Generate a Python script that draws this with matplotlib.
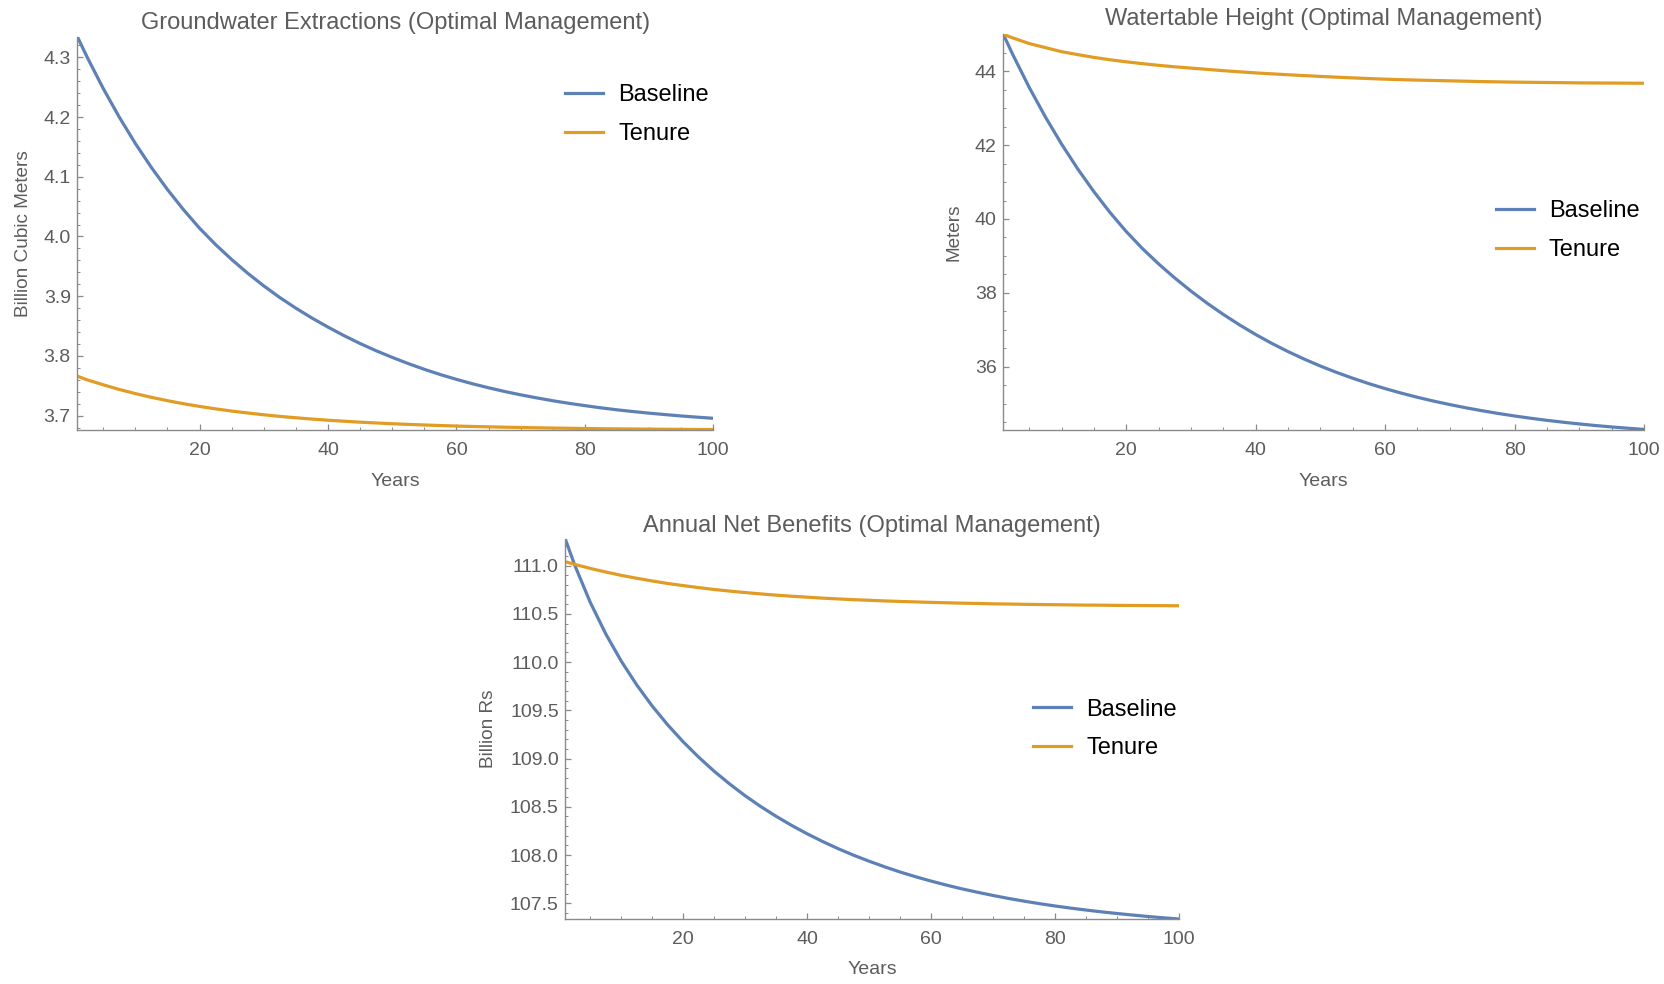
import matplotlib
matplotlib.use("Agg")
import matplotlib.pyplot as plt
from matplotlib.ticker import MultipleLocator, FormatStrFormatter

plt.rcParams['font.family'] = ['Liberation Sans', 'DejaVu Sans']

years = [1, 2.5, 5, 7.5, 10, 12.5, 15, 17.5, 20, 22.5, 25, 27.5, 30, 32.5, 35, 37.5, 40, 42.5, 45, 47.5,
         50, 52.5, 55, 57.5, 60, 62.5, 65, 67.5, 70, 72.5, 75, 77.5, 80, 82.5, 85, 87.5, 90, 92.5, 95, 97.5, 100]

extraction_baseline = [4.3340, 4.3003, 4.2479, 4.1999, 4.1559, 4.1156, 4.0787, 4.0449, 4.0139, 3.9865, 3.9615,
                       3.9385, 3.9173, 3.8978, 3.8800, 3.8635, 3.8483, 3.8340, 3.8208, 3.8087, 3.7976, 3.7872,
                       3.7776, 3.7688, 3.7608, 3.7534, 3.7467, 3.7405, 3.7349, 3.7298, 3.7250, 3.7207, 3.7168,
                       3.7131, 3.7098, 3.7069, 3.7042, 3.7018, 3.6995, 3.6975, 3.6956]
extraction_tenure = [3.7660, 3.7600, 3.7517, 3.7439, 3.7370, 3.7307, 3.7251, 3.7200, 3.7155, 3.7114, 3.7077,
                     3.7045, 3.7015, 3.6988, 3.6965, 3.6943, 3.6924, 3.6907, 3.6891, 3.6878, 3.6865, 3.6854,
                     3.6844, 3.6835, 3.6826, 3.6819, 3.6813, 3.6807, 3.6802, 3.6797, 3.6793, 3.6789, 3.6785,
                     3.6782, 3.6779, 3.6777, 3.6775, 3.6773, 3.6771, 3.6769, 3.6768]

watertable_baseline = [45.000, 44.438, 43.564, 42.763, 42.029, 41.356, 40.739, 40.173, 39.659, 39.199, 38.783,
                       38.402, 38.048, 37.719, 37.415, 37.133, 36.872, 36.631, 36.410, 36.206, 36.018, 35.846,
                       35.688, 35.542, 35.408, 35.285, 35.172, 35.069, 34.975, 34.888, 34.808, 34.734, 34.667,
                       34.605, 34.549, 34.498, 34.451, 34.408, 34.370, 34.335, 34.303]
watertable_tenure = [45.00, 44.90, 44.75, 44.64, 44.53, 44.45, 44.375, 44.31, 44.255, 44.205, 44.16,
                     44.12, 44.085, 44.05, 44.015, 43.985, 43.955, 43.929, 43.905, 43.882, 43.86, 43.839,
                     43.82, 43.802, 43.785, 43.772, 43.76, 43.75, 43.74, 43.73, 43.72, 43.712, 43.705,
                     43.70, 43.695, 43.69, 43.685, 43.682, 43.68, 43.677, 43.675]

benefits_baseline = [111.270, 111.003, 110.619, 110.292, 110.010, 109.763, 109.544, 109.349, 109.173, 109.014, 108.868,
                     108.736, 108.614, 108.503, 108.401, 108.307, 108.220, 108.140, 108.066, 107.998, 107.936, 107.878,
                     107.824, 107.775, 107.730, 107.688, 107.649, 107.614, 107.581, 107.550, 107.522, 107.496, 107.472,
                     107.450, 107.430, 107.411, 107.394, 107.378, 107.363, 107.349, 107.337]
benefits_tenure = [111.040, 111.013, 110.971, 110.934, 110.899, 110.869, 110.841, 110.815, 110.793, 110.772, 110.753,
                   110.736, 110.721, 110.707, 110.694, 110.683, 110.673, 110.663, 110.655, 110.647, 110.641, 110.634,
                   110.629, 110.624, 110.619, 110.615, 110.611, 110.608, 110.604, 110.602, 110.599, 110.597, 110.595,
                   110.593, 110.591, 110.590, 110.588, 110.587, 110.586, 110.585, 110.584]

series_labels = ["Baseline", "Tenure"]
titles = ["Groundwater Extractions (Optimal Management)",
          "Watertable Height (Optimal Management)",
          "Annual Net Benefits (Optimal Management)"]
ylabels = ["Billion Cubic Meters", "Meters", "Billion Rs"]
xlabel = "Years"

BLUE = "#5E81B5"
ORANGE = "#E19C24"
AXCOL = "#8a8a8a"
TXTCOL = "#5c5c5c"

W, H = 1665, 984
fig = plt.figure(figsize=(W / 100, H / 100), dpi=100)

def rect(l, t, r, b):
    return [l / W, 1 - b / H, (r - l) / W, (b - t) / H]

panels = [
    dict(rect=rect(77.5, 36.7, 713.3, 430), ylim=(3.676, 4.3345), major=0.1, minor=0.02, fmt='%.1f',
         ys=(extraction_baseline, extraction_tenure), leg=(565, 114.3), ylab_x=23.4, title_y=22.5, xlab_y=481),
    dict(rect=rect(1003.3, 34.3, 1644, 430), ylim=(34.287, 45.0), major=2, minor=0.5, fmt='%d',
         ys=(watertable_baseline, watertable_tenure), leg=(1495.7, 230.7), ylab_x=953.6, title_y=19.5, xlab_y=481),
    dict(rect=rect(565.5, 539.3, 1179, 919), ylim=(107.337, 111.273), major=0.5, minor=0.1, fmt='%.1f',
         ys=(benefits_baseline, benefits_tenure), leg=(1033.3, 729), ylab_x=488.5, title_y=526, xlab_y=969.5),
]

for i, p in enumerate(panels):
    ax = fig.add_axes(p['rect'])
    for ys, c, lab in zip(p['ys'], (BLUE, ORANGE), series_labels):
        ax.plot(years, ys, color=c, lw=2.3, label=lab, solid_joinstyle='round', clip_on=True)
    ax.set_xlim(1, 100)
    ax.set_ylim(*p['ylim'])
    for s in ('top', 'right'):
        ax.spines[s].set_visible(False)
    for s in ('left', 'bottom'):
        ax.spines[s].set_color(AXCOL)
        ax.spines[s].set_linewidth(1.0)
    ax.xaxis.set_major_locator(MultipleLocator(20))
    ax.xaxis.set_minor_locator(MultipleLocator(5))
    ax.yaxis.set_major_locator(MultipleLocator(p['major']))
    ax.yaxis.set_minor_locator(MultipleLocator(p['minor']))
    ax.yaxis.set_major_formatter(FormatStrFormatter(p['fmt']))
    ax.tick_params(which='both', direction='in', color=AXCOL, labelcolor=TXTCOL, labelsize=14)
    ax.tick_params(which='major', length=4, width=0.9)
    ax.tick_params(which='minor', length=2.3, width=0.7)
    ax.tick_params(axis='x', pad=8.5)
    ax.tick_params(axis='y', pad=4.8)
    ax.patch.set_alpha(0)

    l, b, w, h = p['rect']
    cx = l + w / 2
    fig.text(cx, 1 - p['title_y'] / H, titles[i], ha='center', va='center', fontsize=17, color=TXTCOL)
    ax.set_xlabel(xlabel, fontsize=14, color=TXTCOL, va='center')
    ax.xaxis.set_label_coords(0.5, ((H - p['xlab_y']) - b * H) / (h * H))
    ax.set_ylabel(ylabels[i], fontsize=13.7, color=TXTCOL, va='center')
    ax.yaxis.set_label_coords((p['ylab_x'] - l * W) / (w * W), 0.5)

    lx, ly = p['leg']
    ax.legend(loc='center left', bbox_to_anchor=(lx / W, 1 - ly / H), bbox_transform=fig.transFigure,
              frameon=False, fontsize=17, handlelength=1.61, handletextpad=0.64, labelspacing=0.72,
              borderpad=0, borderaxespad=0)

fig.savefig("out.png", dpi=100)
